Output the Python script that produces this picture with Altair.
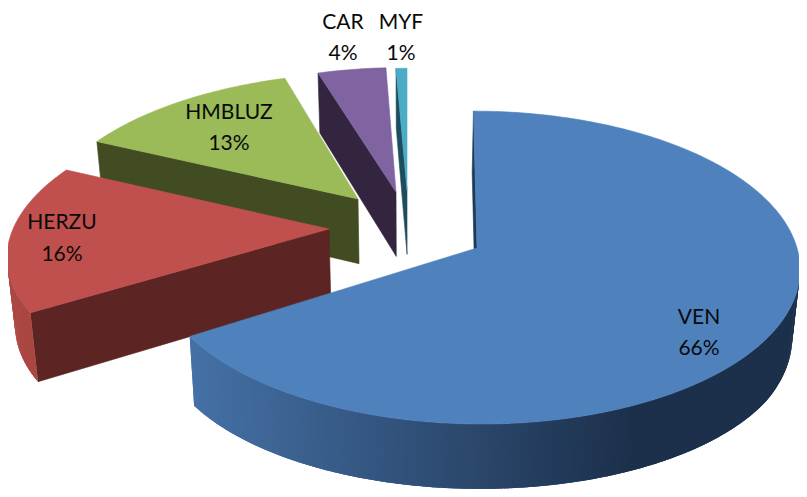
import math
import altair as alt

# data
categories = ["VEN", "HERZU", "HMBLUZ", "CAR", "MYF"]
shares = [66, 16, 13, 4, 1]
labels = ["66%", "16%", "13%", "4%", "1%"]

# colours
top_colors = ["#4F81BD", "#C0504D", "#9BBB59", "#8064A2", "#4BACC6"]
wall_colors = ["#1D3A55", "#5C2423", "#414C22", "#33243F", "#1D4D5C"]
side_left = ["#4672A8", "#AA4743", "#9BBB59", "#8064A2", "#4BACC6"]
side_right = ["#1C304B", "#B04A46", "#9BBB59", "#8064A2", "#4BACC6"]

# layout of the exploded 3-D slices (picture pixels)
apex_x = [477, 329, 358, 396, 407]
apex_y = [248, 229, 199, 192, 190]
radius_x = [320, 316, 311, 307, 197]
radius_y = [154, 146, 142, 140, 137]
skew = [4, -22, -15, -8, 0]
label_x = [699, 62, 229, 343, 401]
name_y = [317.5, 222.5, 112.5, 22.5, 22.5]
pct_y = [348.5, 254.5, 143.5, 53.5, 53.5]
draw_order = [4, 3, 2, 1, 0]
PERSPECTIVE = 0.125
VANISH_X = 410
SHADE_FROM_X = 186
SHADE_SPAN = 454
FONT = "Lato"
FONT_SIZE = 21


def rim(i, deg):
    t = math.radians(deg)
    u, v = math.sin(t), -math.cos(t)
    s = 1 / (1 - PERSPECTIVE * v)
    return (apex_x[i] + radius_x[i] * u * s + skew[i] * v * s,
            apex_y[i] + radius_y[i] * v * s)


def lower(p):
    y = p[1]
    depth = 60 + 0.037 * (y - 73) if y < 331 else 69.5 - 0.05 * (y - 331)
    return (VANISH_X + (p[0] - VANISH_X) * 0.98, y + depth)


def mix(a, b, f):
    ca = [int(a[k:k + 2], 16) for k in (1, 3, 5)]
    cb = [int(b[k:k + 2], 16) for k in (1, 3, 5)]
    return "#%02X%02X%02X" % tuple(round(x + (y - x) * f) for x, y in zip(ca, cb))


def feature(points, fill, sw=0.6):
    pts = [[round(x, 2), round(y, 2)] for x, y in points]
    pts.append(pts[0])
    return {"type": "Feature", "properties": {"fill": fill, "sw": sw},
            "geometry": {"type": "Polygon", "coordinates": [pts]}}


starts, acc = [], 0.0
for sh in shares:
    starts.append(acc)
    acc += sh * 3.6

features = []
for i in draw_order:
    a0, a1 = starts[i], starts[i] + shares[i] * 3.6
    apex = (apex_x[i], apex_y[i])
    p0 = rim(i, a0)
    # cut wall
    features.append(feature([p0, lower(p0), lower(apex), apex], wall_colors[i]))
    # outer wall, only where it faces the viewer; strips overlap so no seams show
    lo, hi = max(a0, 97.2), min(a1, 262.8)
    if hi > lo:
        n = int(hi - lo) * 2
        for k in range(n - 1, -1, -1):
            d0 = lo + (hi - lo) * k / n
            d1 = min(hi, lo + (hi - lo) * (k + 2.5) / n)
            q0, q1 = rim(i, d0), rim(i, d1)
            if i == 0:
                f = max(0, min(1, (q0[0] - SHADE_FROM_X) / SHADE_SPAN))
            else:
                f = k / max(1, n - 1)
            features.append(feature([q0, q1, lower(q1), lower(q0)],
                                    mix(side_left[i], side_right[i], f), 0))
    # top face
    n = max(4, int(a1 - a0))
    features.append(feature([apex] + [rim(i, a0 + (a1 - a0) * k / n) for k in range(n + 1)],
                            top_colors[i]))

text_rows = []
for i, c in enumerate(categories):
    text_rows.append({"lon": label_x[i], "lat": name_y[i], "t": c})
    text_rows.append({"lon": label_x[i], "lat": pct_y[i], "t": labels[i]})

proj = dict(type="identity", scale=1, translate=[-8, -8])

shapes = alt.Chart(alt.Data(values=features)).mark_geoshape().encode(
    fill=alt.Fill("properties.fill:N", scale=None, legend=None),
    stroke=alt.Stroke("properties.fill:N", scale=None, legend=None),
    strokeWidth=alt.StrokeWidth("properties.sw:Q", scale=None, legend=None),
).project(**proj)

texts = alt.Chart(alt.Data(values=text_rows)).mark_text(
    font=FONT, fontSize=FONT_SIZE, color="#0A0A0A", align="center", baseline="middle"
).encode(longitude="lon:Q", latitude="lat:Q", text="t:N").project(**proj)

chart = alt.layer(shapes, texts).properties(
    width=791, height=481, padding=0, autosize=alt.AutoSizeParams(type="none")
).configure_view(stroke=None).configure(background="white")

chart.save("out.html", embed_options={"renderer": "svg", "actions": False})
